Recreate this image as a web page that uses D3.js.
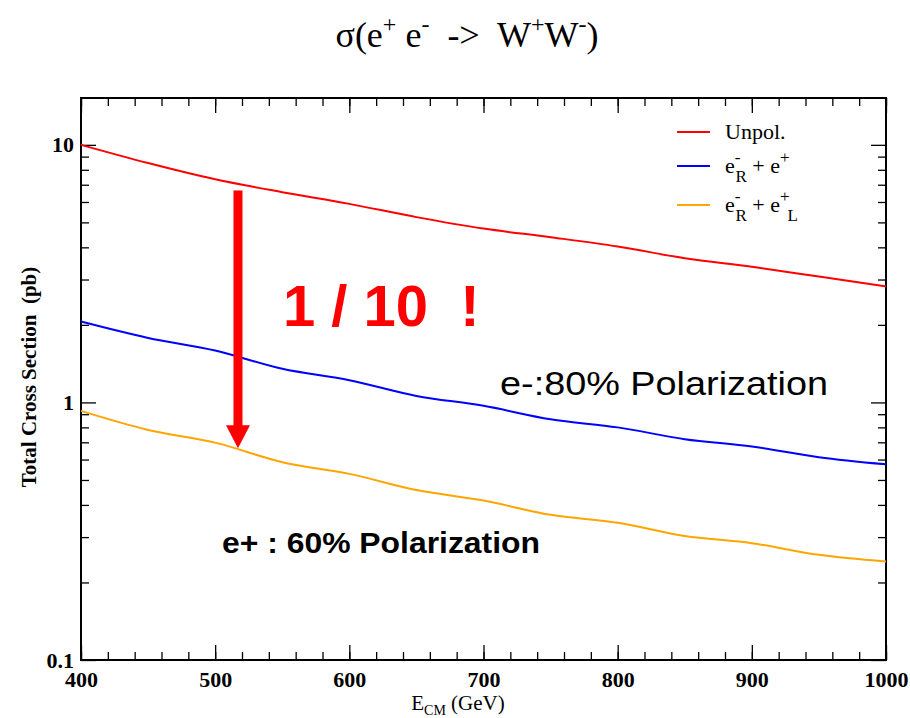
<!DOCTYPE html>
<html>
<head>
<meta charset="utf-8">
<script src="https://cdn.jsdelivr.net/npm/d3@7"></script>
<style>
  body { margin: 0; background: #fff; }
  svg text { font-family: "Liberation Serif", "Times New Roman", serif; }
  .sans { font-family: "Liberation Sans", Arial, sans-serif !important; }
</style>
</head>
<body>
<svg id="chart" width="910" height="718"></svg>
<script>
// energies (GeV), sampled every 50 GeV
var energies = [400, 450, 500, 550, 600, 650, 700, 750, 800, 850, 900, 950, 1000];

// cross sections (pb)
var unpol = [10.0, 8.5, 7.35, 6.55, 5.90, 5.24, 4.73, 4.38, 4.03, 3.63, 3.36, 3.08, 2.82];
var eRpos = [2.06, 1.78, 1.59, 1.35, 1.22, 1.06, 0.97, 0.86, 0.80, 0.72, 0.674, 0.613, 0.575];
var eRposL = [0.927, 0.782, 0.698, 0.586, 0.528, 0.457, 0.416, 0.366, 0.341, 0.303, 0.284, 0.256, 0.241];

var xMajorTicks = [400, 500, 600, 700, 800, 900, 1000];
var xMinorTicks = d3.range(400, 1001, 20);
var yMajorTicks = [0.1, 1, 10];
var yMinorTicks = [0.2, 0.3, 0.4, 0.5, 0.6, 0.7, 0.8, 0.9, 2, 3, 4, 5, 6, 7, 8, 9];

var seriesNames = ["Unpol.", "eR+e+", "eR+eL"];
var seriesColors = ["#ff0000", "#0000ff", "#ffa500"];

// arrow annotation: energy, from value, to value
var arrowE = 517;
var arrowFrom = 6.65;
var arrowTo = 0.664;

var svg = d3.select("#chart");

var plotLeft = 81, plotRight = 886, plotTop = 98, plotBottom = 660;

var xScale = d3.scaleLinear()
  .domain([400, 1000])
  .range([plotLeft, plotRight]);

var yScale = d3.scaleLog()
  .domain([0.1, 15.2])
  .range([plotBottom, plotTop]);

// title
var title = svg.append("text")
  .attr("x", 467)
  .attr("y", 47)
  .attr("text-anchor", "middle")
  .style("font-size", "36px");
title.append("tspan").text("σ(e");
title.append("tspan").attr("dy", -15).style("font-size", "24px").text("+");
title.append("tspan").attr("dy", 15).text(" e");
title.append("tspan").attr("dy", -15).style("font-size", "24px").text("-");
title.append("tspan").attr("dy", 15).style("white-space", "pre").text("  ->  W");
title.append("tspan").attr("dy", -15).style("font-size", "24px").text("+");
title.append("tspan").attr("dy", 15).text("W");
title.append("tspan").attr("dy", -15).style("font-size", "24px").text("-");
title.append("tspan").attr("dy", 15).text(")");

// plot frame
svg.append("rect")
  .attr("x", plotLeft)
  .attr("y", plotTop)
  .attr("width", plotRight - plotLeft)
  .attr("height", plotBottom - plotTop)
  .attr("fill", "none")
  .attr("stroke", "#000")
  .attr("stroke-width", 2);

function styleAxis(g) {
  g.select(".domain").remove();
  g.selectAll(".tick line").attr("stroke", "#000").attr("stroke-width", 1.3);
  g.selectAll("text")
    .attr("fill", "#000")
    .style("font-family", "'Liberation Serif', serif")
    .style("font-weight", "bold")
    .style("font-size", "22px");
}

// bottom axis
svg.append("g")
  .attr("transform", "translate(0," + plotBottom + ")")
  .call(d3.axisBottom(xScale).tickValues(xMinorTicks).tickSize(-8).tickFormat(""))
  .call(styleAxis);
svg.append("g")
  .attr("transform", "translate(0," + plotBottom + ")")
  .call(d3.axisBottom(xScale).tickValues(xMajorTicks).tickSize(-15).tickPadding(11).tickFormat(d3.format("d")))
  .call(styleAxis);

// top axis (mirror ticks)
svg.append("g")
  .attr("transform", "translate(0," + plotTop + ")")
  .call(d3.axisTop(xScale).tickValues(xMinorTicks).tickSize(-8).tickFormat(""))
  .call(styleAxis);
svg.append("g")
  .attr("transform", "translate(0," + plotTop + ")")
  .call(d3.axisTop(xScale).tickValues(xMajorTicks).tickSize(-15).tickFormat(""))
  .call(styleAxis);

// left axis
svg.append("g")
  .attr("transform", "translate(" + plotLeft + ",0)")
  .call(d3.axisLeft(yScale).tickValues(yMinorTicks).tickSize(-8).tickFormat(""))
  .call(styleAxis);
svg.append("g")
  .attr("transform", "translate(" + plotLeft + ",0)")
  .call(d3.axisLeft(yScale).tickValues(yMajorTicks).tickSize(-15).tickPadding(7).tickFormat(function (d) { return d < 1 ? "0.1" : d3.format("d")(d); }))
  .call(styleAxis);

// right axis (mirror ticks)
svg.append("g")
  .attr("transform", "translate(" + plotRight + ",0)")
  .call(d3.axisRight(yScale).tickValues(yMinorTicks).tickSize(-8).tickFormat(""))
  .call(styleAxis);
svg.append("g")
  .attr("transform", "translate(" + plotRight + ",0)")
  .call(d3.axisRight(yScale).tickValues(yMajorTicks).tickSize(-15).tickFormat(""))
  .call(styleAxis);

// axis labels
var xLabel = svg.append("text")
  .attr("x", 458)
  .attr("y", 710)
  .attr("text-anchor", "middle")
  .style("font-size", "21px");
xLabel.append("tspan").text("E");
xLabel.append("tspan").attr("dy", 5).style("font-size", "14px").text("CM");
xLabel.append("tspan").attr("dy", -5).text(" (GeV)");

svg.append("text")
  .attr("transform", "translate(36,377)rotate(-90)")
  .attr("text-anchor", "middle")
  .style("font-size", "21px")
  .style("font-weight", "bold")
  .style("white-space", "pre")
  .text("Total Cross Section  (pb)");

// series lines
var line = d3.line()
  .curve(d3.curveMonotoneX)
  .x(function (d) { return xScale(d[0]); })
  .y(function (d) { return yScale(d[1]); });

[unpol, eRpos, eRposL].forEach(function (values, i) {
  svg.append("path")
    .datum(energies.map(function (e, j) { return [e, values[j]]; }))
    .attr("d", line)
    .attr("fill", "none")
    .attr("stroke", seriesColors[i])
    .attr("stroke-width", 2);
});

// legend
var legendY = [132, 166, 205];
seriesNames.forEach(function (name, i) {
  svg.append("line")
    .attr("x1", 677).attr("x2", 710)
    .attr("y1", legendY[i]).attr("y2", legendY[i])
    .attr("stroke", seriesColors[i])
    .attr("stroke-width", 2);
  var t = svg.append("text")
    .attr("x", 725)
    .attr("y", legendY[i] + 7)
    .style("font-size", "22px");
  if (i === 0) {
    t.text(name);
  } else {
    t.append("tspan").text("e");
    t.append("tspan").attr("dy", -10).style("font-size", "17px").text("-");
    t.append("tspan").attr("dx", -5).attr("dy", 19).style("font-size", "17px").text("R");
    t.append("tspan").attr("dy", -9).text(" + e");
    t.append("tspan").attr("dy", -10).style("font-size", "17px").text("+");
    if (i === 2) {
      t.append("tspan").attr("dx", -2).attr("dy", 19).style("font-size", "17px").text("L");
    }
  }
});

// arrow annotation
var ax = xScale(arrowE);
var yFrom = yScale(arrowFrom);
var yTip = yScale(arrowTo);
svg.append("rect")
  .attr("x", ax - 4.5)
  .attr("y", yFrom)
  .attr("width", 9)
  .attr("height", yTip - 22 - yFrom)
  .attr("fill", "#ff0000");
svg.append("path")
  .attr("d", "M" + (ax - 12) + "," + (yTip - 23) + "L" + (ax + 12) + "," + (yTip - 23) + "L" + ax + "," + yTip + "Z")
  .attr("fill", "#ff0000");

// annotation texts
svg.append("text")
  .attr("class", "sans")
  .attr("x", 283)
  .attr("y", 326)
  .attr("fill", "#ff0000")
  .style("font-size", "58px")
  .style("font-weight", "bold")
  .style("white-space", "pre")
  .text("1 / 10  !");

svg.append("text")
  .attr("class", "sans")
  .attr("x", 500)
  .attr("y", 395)
  .attr("fill", "#000")
  .style("font-size", "33px")
  .attr("textLength", 328)
  .attr("lengthAdjust", "spacingAndGlyphs")
  .text("e-:80% Polarization");

svg.append("text")
  .attr("class", "sans")
  .attr("x", 222)
  .attr("y", 553)
  .attr("fill", "#000")
  .style("font-size", "29px")
  .style("font-weight", "bold")
  .attr("textLength", 318)
  .attr("lengthAdjust", "spacingAndGlyphs")
  .text("e+ : 60% Polarization");
</script>
</body>
</html>
